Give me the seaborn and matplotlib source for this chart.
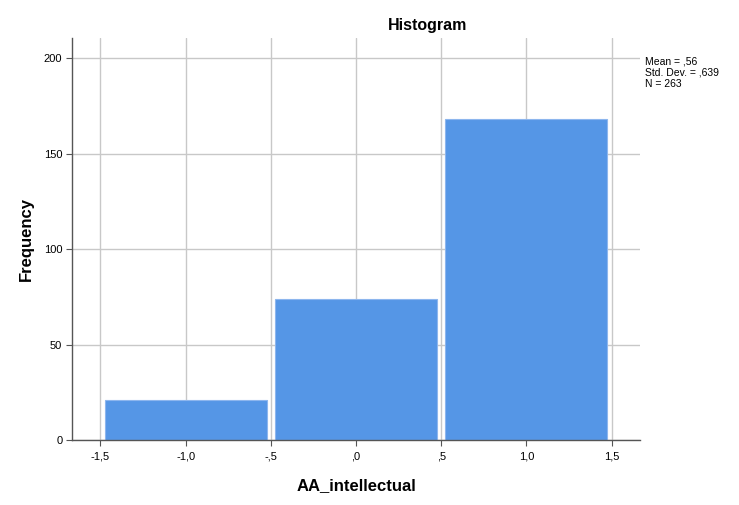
import numpy as np
import pandas as pd
import seaborn as sns
import matplotlib.pyplot as plt

# Histogram values
bin_edges = [-1.5, -0.5, 0.5, 1.5]
bin_centers = [-1.0, 0.0, 1.0]
counts = [21, 74, 168]

x_ticks = [-1.5, -1.0, -0.5, 0.0, 0.5, 1.0, 1.5]
x_tick_labels = ['-1,5', '-1,0', '-,5', ',0', ',5', '1,0', '1,5']
y_ticks = [0, 50, 100, 150, 200]
stats_text = 'Mean = ,56\nStd. Dev. = ,639\nN = 263'

df = pd.DataFrame({'AA_intellectual': bin_centers, 'count': counts})

sns.set_style('white')
plt.rcParams['font.family'] = ['Liberation Sans', 'DejaVu Sans']
plt.rcParams['text.color'] = 'black'
plt.rcParams['axes.labelcolor'] = 'black'
plt.rcParams['xtick.color'] = 'black'
plt.rcParams['ytick.color'] = 'black'

fig = plt.figure(figsize=(7.39, 5.05), dpi=100)
ax = fig.add_axes([0.0975, 0.1287, 0.7685, 0.796])

sns.histplot(data=df, x='AA_intellectual', weights='count', bins=bin_edges,
             shrink=0.95, color='#5596E6', alpha=1, edgecolor='#8DB6EE',
             linewidth=0.8, ax=ax, zorder=3)

ax.set_xlim(-1.667, 1.667)
ax.set_ylim(0, 210.5)
ax.set_xticks(x_ticks)
ax.set_xticklabels(x_tick_labels)
ax.set_yticks(y_ticks)
ax.grid(True, color='#C8C8C8', linewidth=1.0, zorder=0)
ax.set_axisbelow(True)

for side in ['top', 'right']:
    ax.spines[side].set_visible(False)
for side in ['left', 'bottom']:
    ax.spines[side].set_color('#555555')
    ax.spines[side].set_linewidth(1.0)
    ax.spines[side].set_zorder(4)

ax.tick_params(axis='x', bottom=True, length=4, width=0.8, color='#555555',
               labelsize=8, pad=4)
ax.tick_params(axis='y', left=True, length=4, width=0.8, color='#555555',
               labelsize=8, pad=3)

ax.set_xlabel('AA_intellectual', fontsize=12, fontweight='bold', labelpad=12)
ax.set_ylabel('Frequency', fontsize=12, fontweight='bold', labelpad=7)

fig.text(0.578, 0.95, 'Histogram', fontsize=11.5, fontweight='bold',
         ha='center', va='center')
fig.text(0.873, 0.888, stats_text, fontsize=7.5, ha='left', va='top',
         linespacing=1.15)

plt.savefig('out.png', dpi=100)
